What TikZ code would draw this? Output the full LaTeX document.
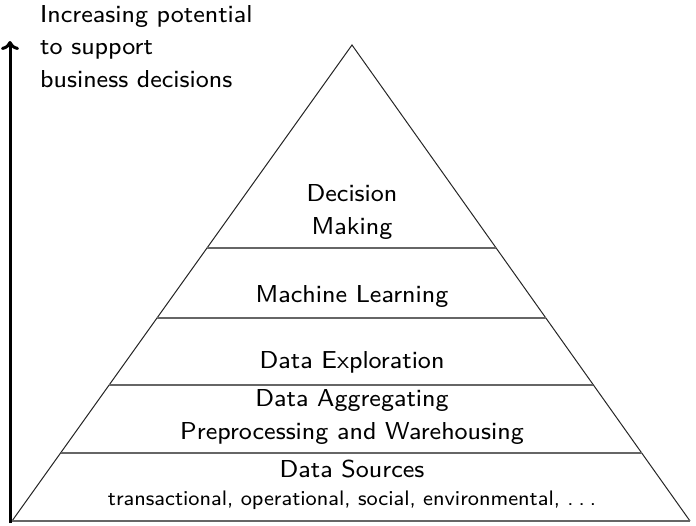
\documentclass[tikz,border=0pt]{standalone}
\usepackage{fontspec}
\setsansfont{lmsans8-regular}[Extension=.otf]
\usetikzlibrary{calc,arrows.meta}
\tikzset{
  edge/.style={line width=1pt, black!85},
  layer/.style={line width=1.2pt, black!60},
  lbl/.style={font=\sffamily\fontsize{24.5}{32.5}\selectfont, align=center, inner sep=0pt},
  small/.style={font=\sffamily\fontsize{21}{24}\selectfont, inner sep=0pt},
  axis/.style={line width=3pt, -{To[length=9pt,width=18pt]}}
}
\begin{document}
\begin{tikzpicture}[x=1pt,y=-1pt]
\useasboundingbox (0,0) rectangle (696,525);
\coordinate (A) at (352,45);
\coordinate (BL) at (12,521);
\coordinate (BR) at (690,521);
\coordinate (AxB) at (10,523);
\coordinate (AxT) at (10,41);
% pyramid
\draw[edge] (BL) -- (A) -- (BR);
\draw[layer] (BL) -- (BR);
\foreach \t/\n in {0.4265/a,0.5735/b,0.7143/c,0.8571/d}{
  \coordinate (L\n) at ($(A)!\t!(BL)$);
  \coordinate (R\n) at ($(A)!\t!(BR)$);
  \draw[layer] (L\n) -- (R\n);
}
% axis
\draw[axis] (AxB) -- (AxT);
% labels
\node[lbl] (dm) at (352,212) {Decision\\Making};
\node[lbl] (ml) at (352,297) {Machine Learning};
\node[lbl] (de) at (352,362) {Data Exploration};
\node[lbl] (da) at (352,417) {Data Aggregating\\Preprocessing and Warehousing};
\node[lbl] (ds) at (352,469) {Data Sources};
\node[small] (dt) at (352,500) {transactional, operational, social, environmental, .\kern5pt.\kern5pt.};
\node[lbl, align=left, anchor=north west] (title) at (40,5) {Increasing potential\\to support\\business decisions};
\end{tikzpicture}
\end{document}
